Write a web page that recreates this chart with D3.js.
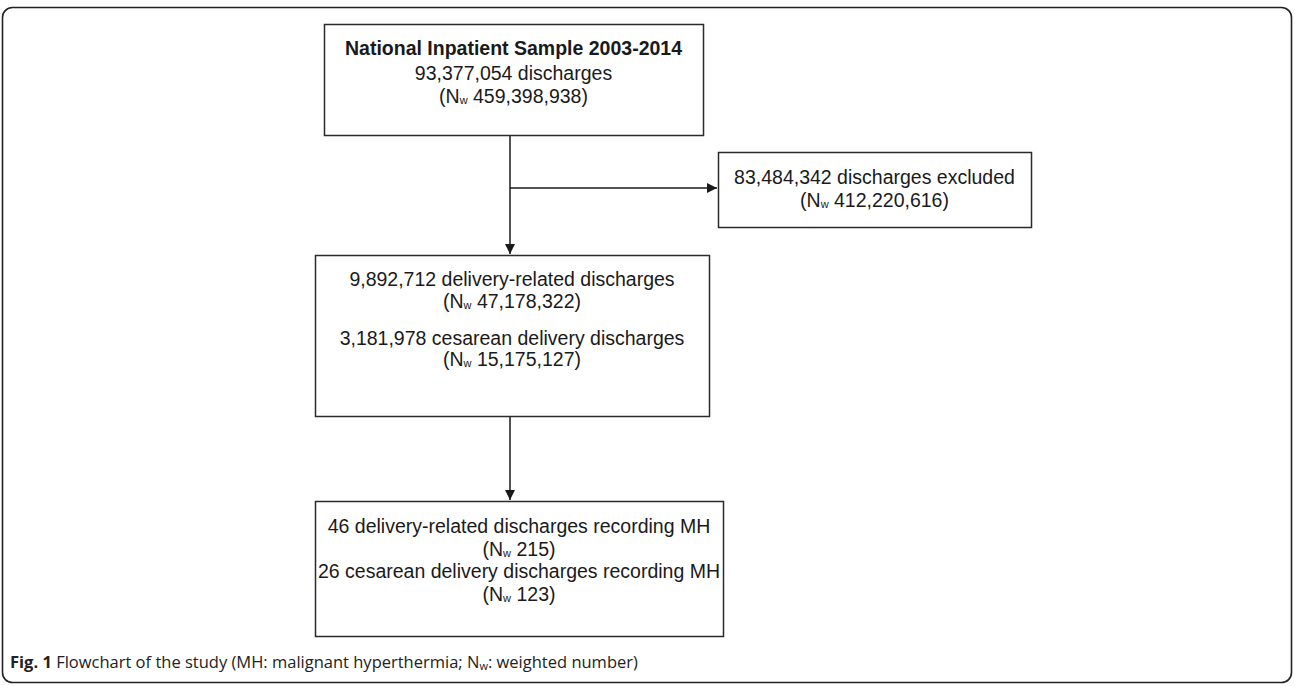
<!DOCTYPE html>
<html>
<head>
<meta charset="utf-8">
<script src="https://cdn.jsdelivr.net/npm/d3@7"></script>
<style>
  html, body { margin: 0; padding: 0; background: #fff; }
  svg { display: block; }
</style>
</head>
<body>
<div id="app"></div>
<script>
const WIDTH = 1295;
const HEIGHT = 686;

// box ids and text content (lines; "Nw" rendered with a subscript w)
const boxIds = ['source', 'excluded', 'delivery', 'mh'];
const boxLines = [
  [{ text: 'National Inpatient Sample 2003-2014', bold: true }, { text: '93,377,054 discharges' }, { nw: '459,398,938' }],
  [{ text: '83,484,342 discharges excluded' }, { nw: '412,220,616' }],
  [{ text: '9,892,712 delivery-related discharges' }, { nw: '47,178,322' }, { text: '3,181,978 cesarean delivery discharges' }, { nw: '15,175,127' }],
  [{ text: '46 delivery-related discharges recording MH' }, { nw: '215' }, { text: '26 cesarean delivery discharges recording MH' }, { nw: '123' }]
];
const links = [
  ['source', 'delivery'],
  ['source', 'excluded'],
  ['delivery', 'mh']
];
const captionBold = 'Fig. 1';
const captionText = ' Flowchart of the study (MH: malignant hyperthermia; N';
const captionTail = ': weighted number)';

// layout (pixel geometry)
const layout = {
  source:   { x: 324, y: 24,  w: 379, h: 111, baselines: [55, 80, 103] },
  excluded: { x: 718, y: 152, w: 313, h: 75,  baselines: [184, 207] },
  delivery: { x: 315, y: 255, w: 394, h: 161, baselines: [286, 308, 345, 366] },
  mh:       { x: 315, y: 501, w: 408, h: 135, baselines: [533, 556, 578, 601] }
};
const TRUNK_X = 510;
const BRANCH_Y = 188;
const FONT_SIZE = 19.5;

const svg = d3.select('#app')
  .append('svg')
  .attr('width', WIDTH)
  .attr('height', HEIGHT);

const defs = svg.append('defs');
defs.append('marker')
  .attr('id', 'arrow')
  .attr('viewBox', '0 0 10 10')
  .attr('refX', 10)
  .attr('refY', 5)
  .attr('markerUnits', 'userSpaceOnUse')
  .attr('markerWidth', 10)
  .attr('markerHeight', 10)
  .attr('orient', 'auto')
  .append('path')
  .attr('d', 'M0,0 L10,5 L0,10 Z')
  .attr('fill', '#1a1a1a');

// outer frame
svg.append('rect')
  .attr('x', 2.5)
  .attr('y', 7.5)
  .attr('width', 1289)
  .attr('height', 675)
  .attr('rx', 10)
  .attr('fill', 'none')
  .attr('stroke', '#222')
  .attr('stroke-width', 1.6);

// connectors
const g = svg.append('g').attr('class', 'links');
links.forEach(([from, to]) => {
  const a = layout[from], b = layout[to];
  let d;
  if (b.x > a.x + a.w - 50) {
    // side branch off the trunk
    d = `M${TRUNK_X},${BRANCH_Y} H${b.x - 1}`;
  } else {
    d = `M${TRUNK_X},${a.y + a.h} V${b.y - 1}`;
  }
  g.append('path')
    .attr('d', d)
    .attr('fill', 'none')
    .attr('stroke', '#1a1a1a')
    .attr('stroke-width', 1.5)
    .attr('marker-end', 'url(#arrow)');
});

// boxes
const boxes = svg.append('g').attr('class', 'boxes')
  .selectAll('g.box')
  .data(boxIds.map((id, i) => ({ id, lines: boxLines[i], ...layout[id] })))
  .join('g')
  .attr('class', 'box');

boxes.append('rect')
  .attr('x', d => d.x + 0.5)
  .attr('y', d => d.y + 0.5)
  .attr('width', d => d.w)
  .attr('height', d => d.h)
  .attr('fill', '#fff')
  .attr('stroke', '#2a2a2a')
  .attr('stroke-width', 1.5);

boxes.each(function (d) {
  const cx = d.x + d.w / 2;
  const sel = d3.select(this);
  d.lines.forEach((line, i) => {
    const t = sel.append('text')
      .attr('x', cx)
      .attr('y', d.baselines[i])
      .attr('text-anchor', 'middle')
      .attr('font-family', '"Liberation Sans", Arial, sans-serif')
      .attr('font-size', FONT_SIZE)
      .attr('fill', '#1a1a1a');
    if (line.nw) {
      t.append('tspan').text('(N');
      t.append('tspan').attr('font-size', 11).attr('dy', 1).text('w');
      t.append('tspan').attr('dy', -1).text(' ' + line.nw + ')');
    } else {
      t.text(line.text).attr('font-weight', line.bold ? 'bold' : null);
    }
  });
});

// caption
const cap = svg.append('text')
  .attr('x', 10)
  .attr('y', 668)
  .attr('font-family', '"Open Sans", "Noto Sans", sans-serif')
  .attr('font-size', 16.5)
  .attr('fill', '#222');
cap.append('tspan').attr('font-weight', 'bold').text(captionBold);
cap.append('tspan').text(captionText);
cap.append('tspan').attr('font-size', 11).attr('dy', 2).text('w');
cap.append('tspan').attr('dy', -2).text(captionTail);
</script>
</body>
</html>
